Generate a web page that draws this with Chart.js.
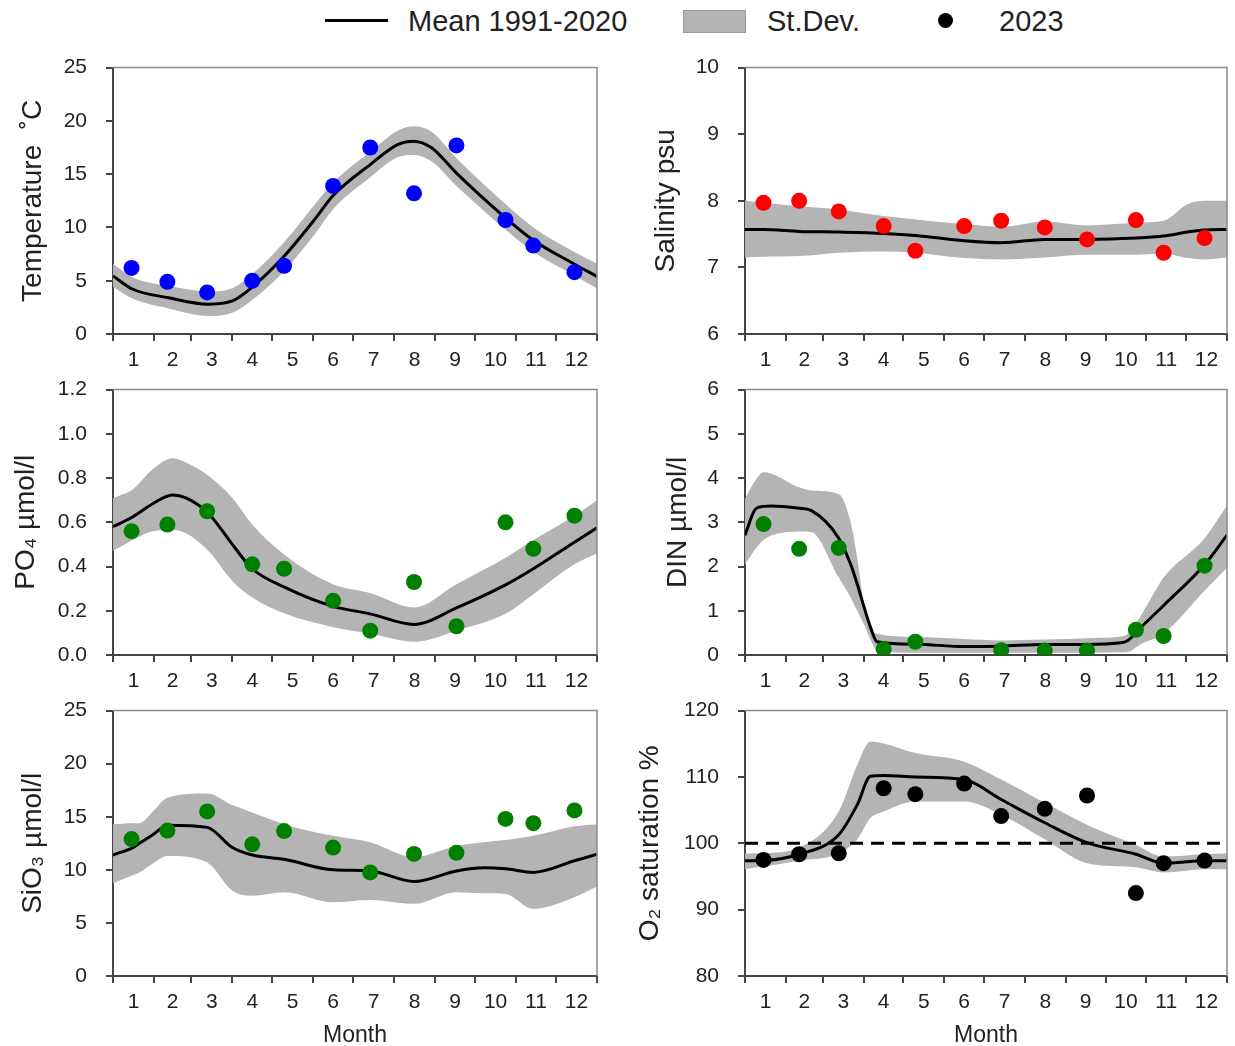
<!DOCTYPE html>
<html>
<head>
<meta charset="utf-8">
<script src="https://cdn.jsdelivr.net/npm/chart.js@4.4.1/dist/chart.umd.min.js"></script>
<style>
  body { margin: 0; background: #fff; width: 1235px; height: 1046px; position: relative; overflow: hidden;
         font-family: "Liberation Sans", Arial, sans-serif; color: #222; }
  canvas { position: absolute; }
  .lg { position: absolute; }
  .lgtxt { position: absolute; top: 0; line-height: 42px; font-size: 29px; white-space: nowrap; }
</style>
</head>
<body>
<div class="lg" style="left:325px; top:19px; width:63px; height:3px; background:#000;"></div>
<div class="lgtxt" style="left:408px;">Mean 1991-2020</div>
<div class="lg" style="left:683px; top:10px; width:61px; height:21px; background:#b4b4b4; border:1px solid #9a9a9a;"></div>
<div class="lgtxt" style="left:767px;">St.Dev.</div>
<div class="lg" style="left:938px; top:13px; width:15px; height:15px; border-radius:50%; background:#000;"></div>
<div class="lgtxt" style="left:999px;">2023</div>

<canvas id="temp" width="610" height="338" style="left:0px; top:36px;"></canvas>
<canvas id="sal" width="615" height="338" style="left:620px; top:36px;"></canvas>
<canvas id="po4" width="610" height="337" style="left:0px; top:358px;"></canvas>
<canvas id="din" width="615" height="337" style="left:620px; top:358px;"></canvas>
<canvas id="sio3" width="610" height="370" style="left:0px; top:679px;"></canvas>
<canvas id="o2" width="615" height="370" style="left:620px; top:679px;"></canvas>

<script>
// x axis is day of year, ticks at month starts, labels mid-month
var monthLabels = ['1', '2', '3', '4', '5', '6', '7', '8', '9', '10', '11', '12'];
var monthStarts = [0, 31, 59, 90, 120, 151, 181, 212, 243, 273, 304, 334, 365];
var monthMids   = [15.5, 45, 74.5, 105, 135.5, 166, 196.5, 227.5, 258, 288.5, 319, 349.5];

// 2023 sampling days (same cruise for every parameter)
var sampleDays = [14, 41, 71, 105, 129, 166, 194, 227, 259, 296, 317, 348];

// Temperature
var tempDays  = [0, 15, 42, 72, 90, 105, 129, 153, 166, 194, 215, 227, 240, 259, 296, 317, 348, 365];
var tempMean  = [5.45, 4.2, 3.4, 2.8, 3.1, 4.4, 7.3, 10.9, 13.0, 15.9, 17.8, 18.1, 17.5, 15.1, 10.9, 8.8, 6.55, 5.4];
var tempUpper = [6.6, 5.3, 4.5, 4.0, 4.3, 5.6, 8.6, 12.3, 14.2, 17.1, 19.1, 19.5, 19.0, 16.5, 12.2, 10.0, 7.7, 6.6];
var tempLower = [4.4, 3.3, 2.4, 1.7, 2.0, 3.2, 5.9, 9.5, 11.7, 14.7, 16.6, 16.8, 16.2, 13.9, 9.8, 7.7, 5.5, 4.3];
var temp2023  = [6.2, 4.9, 3.9, 5.0, 6.4, 13.9, 17.5, 13.2, 17.7, 10.7, 8.3, 5.8];

// Salinity
var salDays  = [0, 14, 41, 71, 105, 129, 166, 194, 227, 259, 296, 317, 335, 348, 365];
var salMean  = [7.57, 7.57, 7.54, 7.53, 7.51, 7.48, 7.40, 7.37, 7.42, 7.42, 7.44, 7.47, 7.53, 7.56, 7.57];
var salUpper = [8.0, 7.97, 7.92, 7.87, 7.77, 7.72, 7.65, 7.61, 7.69, 7.63, 7.67, 7.70, 7.95, 8.0, 8.0];
var salLower = [7.15, 7.16, 7.17, 7.22, 7.24, 7.22, 7.14, 7.12, 7.15, 7.19, 7.19, 7.21, 7.14, 7.12, 7.15];
var sal2023  = [7.97, 8.0, 7.84, 7.62, 7.25, 7.62, 7.70, 7.60, 7.42, 7.71, 7.22, 7.44];

// PO4
var po4Days  = [0, 15, 30, 45, 55, 72, 90, 105, 130, 166, 194, 227, 259, 296, 317, 348, 365];
var po4Mean  = [0.58, 0.625, 0.684, 0.724, 0.71, 0.64, 0.50, 0.39, 0.305, 0.22, 0.186, 0.138, 0.213, 0.317, 0.39, 0.51, 0.575];
var po4Upper = [0.71, 0.75, 0.84, 0.89, 0.87, 0.81, 0.71, 0.59, 0.45, 0.32, 0.28, 0.215, 0.32, 0.44, 0.52, 0.63, 0.70];
var po4Lower = [0.47, 0.52, 0.56, 0.565, 0.55, 0.47, 0.335, 0.26, 0.186, 0.126, 0.097, 0.06, 0.11, 0.186, 0.275, 0.41, 0.46];
var po42023  = [0.56, 0.59, 0.65, 0.41, 0.39, 0.245, 0.11, 0.33, 0.13, 0.60, 0.48, 0.63];

// DIN
var dinDays  = [0, 8, 14, 20, 41, 50, 71, 80, 85, 90, 95, 100, 129, 166, 194, 227, 259, 283, 290, 300, 317, 348, 365];
var dinMean  = [2.71, 3.3, 3.36, 3.37, 3.32, 3.27, 2.64, 2.05, 1.6, 1.1, 0.63, 0.30, 0.245, 0.19, 0.2, 0.24, 0.24, 0.27, 0.33, 0.63, 1.12, 2.04, 2.71];
var dinUpper = [3.53, 3.95, 4.13, 4.1, 3.79, 3.72, 3.64, 3.0, 2.2, 1.15, 0.63, 0.48, 0.41, 0.36, 0.33, 0.35, 0.38, 0.41, 0.48, 0.9, 1.75, 2.64, 3.38];
var dinLower = [2.04, 2.4, 2.6, 2.7, 2.79, 2.78, 1.75, 1.3, 1.0, 0.7, 0.35, 0.1, 0.05, 0.05, 0.05, 0.05, 0.05, 0.06, 0.07, 0.25, 0.48, 1.45, 1.97];
var din2023  = [2.96, 2.40, 2.42, 0.13, 0.30, null, 0.11, 0.10, 0.10, 0.57, 0.43, 2.02];

// SiO3
var sioDays  = [0, 15, 20, 30, 41, 71, 90, 105, 129, 166, 194, 227, 259, 280, 296, 317, 348, 365];
var sioMean  = [11.4, 12.1, 12.5, 13.3, 14.2, 14.0, 12.1, 11.4, 11.0, 10.0, 9.9, 8.9, 9.9, 10.2, 10.1, 9.76, 10.85, 11.47];
var sioUpper = [14.3, 14.4, 14.4, 15.5, 16.8, 17.2, 16.1, 15.4, 14.3, 13.2, 12.6, 11.2, 12.25, 12.6, 12.8, 13.2, 14.1, 14.3];
var sioLower = [8.73, 9.5, 9.76, 10.6, 11.3, 10.7, 8.04, 7.57, 7.9, 6.95, 7.17, 6.8, 7.9, 7.8, 7.73, 6.33, 7.42, 8.42];
var sio2023  = [12.9, 13.7, 15.5, 12.4, 13.65, 12.1, 9.76, 11.5, 11.6, 14.8, 14.4, 15.6];

// O2 saturation
var o2Days  = [0, 14, 41, 71, 85, 95, 105, 129, 166, 194, 227, 259, 296, 317, 348, 365];
var o2Mean  = [97.36, 97.4, 98.35, 101.3, 105.8, 110.1, 110.2, 110.0, 109.6, 106.6, 103.1, 100.1, 98.35, 97.0, 97.36, 97.36];
var o2Upper = [98.45, 98.5, 99.35, 104.8, 111.8, 115.3, 115.06, 113.6, 112.3, 109.6, 106.1, 102.8, 99.75, 98.0, 98.35, 98.45];
var o2Lower = [96.1, 96.5, 97.36, 98.45, 100.6, 103.8, 104.8, 106.3, 106.3, 104.3, 100.6, 97.0, 96.4, 95.6, 96.1, 96.1];
var o22023  = [97.5, 98.35, 98.5, 108.3, 107.4, 109.0, 104.1, 105.2, 107.2, 92.5, 97.0, 97.4];
var o2Ref   = [100, 100];
var refDays = [0, 365];

var xTickValues = monthStarts.concat(monthMids).sort(function(a, b){ return a - b; });
var FONT = '"Liberation Sans", Arial, sans-serif';

function xy(days, vals) {
  return days.map(function(d, i){ return {x: d, y: vals[i]}; })
             .filter(function(p){ return p.y !== null; });
}

// top + right frame lines of the plot box
var framePlugin = {
  id: 'frame',
  afterDraw: function(chart) {
    var a = chart.chartArea, c = chart.ctx;
    c.save();
    c.strokeStyle = '#8a8a8a';
    c.lineWidth = 1.5;
    c.beginPath();
    c.moveTo(a.left, a.top);
    c.lineTo(a.right, a.top);
    c.lineTo(a.right, a.bottom);
    c.stroke();
    c.restore();
  }
};

function makePanel(id, p) {
  var datasets = [
    { data: xy(p.days, p.upper), borderWidth: 0, pointRadius: 0, backgroundColor: '#b4b4b4',
      fill: '+1', cubicInterpolationMode: 'monotone', order: 4 },
    { data: xy(p.days, p.lower), borderWidth: 0, pointRadius: 0, backgroundColor: '#b4b4b4',
      fill: false, cubicInterpolationMode: 'monotone', order: 3 },
    { data: xy(p.days, p.mean), borderColor: '#000', borderWidth: 3, pointRadius: 0,
      fill: false, cubicInterpolationMode: 'monotone', order: 1 },
    { type: 'scatter', data: xy(sampleDays, p.obs), backgroundColor: p.color, borderWidth: 0,
      pointRadius: 8, order: 0 }
  ];
  if (p.ref) {
    datasets.push({ data: xy(refDays, p.ref), borderColor: '#000', borderWidth: 3, borderDash: [13, 8],
      pointRadius: 0, fill: false, order: 2 });
  }
  return new Chart(document.getElementById(id), {
    type: 'line',
    data: { datasets: datasets },
    plugins: [framePlugin],
    options: {
      responsive: false,
      animation: false,
      layout: { padding: { top: 16, right: p.padRight, left: 0, bottom: 0 } },
      plugins: { legend: { display: false }, tooltip: { enabled: false } },
      scales: {
        x: {
          type: 'linear', min: 0, max: 365,
          afterBuildTicks: function(s){ s.ticks = xTickValues.map(function(v){ return {value: v}; }); },
          afterFit: function(s){ s.height = p.xh; },
          ticks: {
            autoSkip: false, maxRotation: 0, padding: 7, color: '#222',
            font: { family: FONT, size: 21 },
            callback: function(v){ var i = monthMids.indexOf(v); return i < 0 ? '' : monthLabels[i]; }
          },
          grid: {
            drawOnChartArea: false, tickLength: 7, lineWidth: 2,
            tickColor: function(ctx){ return monthStarts.indexOf(ctx.tick.value) < 0 ? 'rgba(0,0,0,0)' : '#444'; }
          },
          border: { display: true, color: '#444', width: 2 },
          title: { display: !!p.month, text: 'Month', color: '#222', font: { family: FONT, size: 23 },
                   padding: { top: 0, bottom: 0 } }
        },
        y: {
          min: p.ymin, max: p.ymax,
          afterFit: function(s){ s.width = p.yw; },
          ticks: {
            stepSize: p.step, padding: 19, color: '#222', font: { family: FONT, size: 21 },
            callback: function(v){ return v.toFixed(p.dec); }
          },
          grid: { drawOnChartArea: false, tickLength: 7, lineWidth: 2, color: '#444' },
          border: { display: true, color: '#444', width: 2 },
          title: { display: true, text: p.title, color: '#222', font: { family: FONT, size: 28 },
                   padding: { top: p.titlePad, bottom: 0 } }
        }
      }
    }
  });
}

makePanel('temp', { days: tempDays, mean: tempMean, upper: tempUpper, lower: tempLower, obs: temp2023,
  color: '#0000ff', ymin: 0, ymax: 25, step: 5, dec: 0, title: 'Temperature  \u02DAC', titlePad: 16,
  yw: 113, padRight: 13, xh: 40 });
makePanel('sal', { days: salDays, mean: salMean, upper: salUpper, lower: salLower, obs: sal2023,
  color: '#ff0000', ymin: 6, ymax: 10, step: 1, dec: 0, title: 'Salinity psu', titlePad: 29,
  yw: 125, padRight: 5, xh: 40 });
makePanel('po4', { days: po4Days, mean: po4Mean, upper: po4Upper, lower: po4Lower, obs: po42023,
  color: '#008000', ymin: 0, ymax: 1.2, step: 0.2, dec: 1, title: 'PO\u2084 \u00B5mol/l', titlePad: 9,
  yw: 113, padRight: 13, xh: 40 });
makePanel('din', { days: dinDays, mean: dinMean, upper: dinUpper, lower: dinLower, obs: din2023,
  color: '#008000', ymin: 0, ymax: 6, step: 1, dec: 0, title: 'DIN \u00B5mol/l', titlePad: 41,
  yw: 125, padRight: 5, xh: 40 });
makePanel('sio3', { days: sioDays, mean: sioMean, upper: sioUpper, lower: sioLower, obs: sio2023,
  color: '#008000', ymin: 0, ymax: 25, step: 5, dec: 0, title: 'SiO\u2083 \u00B5mol/l', titlePad: 16,
  yw: 113, padRight: 13, xh: 73, month: true });
makePanel('o2', { days: o2Days, mean: o2Mean, upper: o2Upper, lower: o2Lower, obs: o22023,
  color: '#000000', ymin: 80, ymax: 120, step: 10, dec: 0, title: 'O\u2082 saturation %', titlePad: 13,
  yw: 125, padRight: 5, xh: 73, month: true, ref: o2Ref });
</script>
</body>
</html>
